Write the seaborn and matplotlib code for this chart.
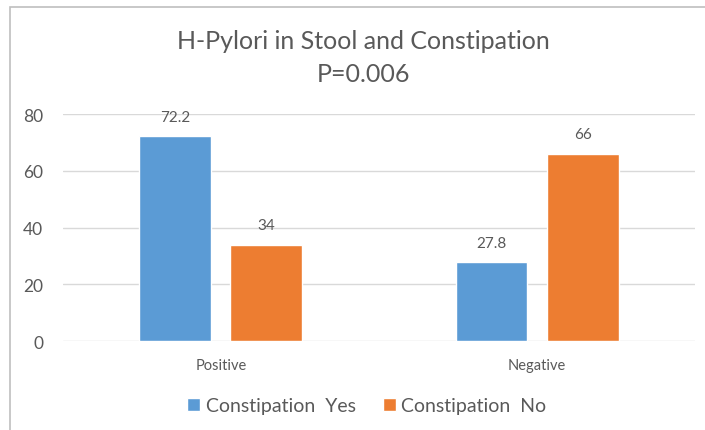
import matplotlib
matplotlib.use("Agg")
import matplotlib.pyplot as plt
import seaborn as sns
import pandas as pd
from matplotlib.patches import Rectangle

# data
groups = ["Positive", "Negative"]
series = ["Constipation  Yes", "Constipation  No"]
yes_values = [72.2, 27.8]
no_values = [34, 66]
value_labels = {"Constipation  Yes": ["72.2", "27.8"], "Constipation  No": ["34", "66"]}

df = pd.DataFrame({
    "group": groups * 2,
    "series": [series[0]] * 2 + [series[1]] * 2,
    "value": yes_values + no_values,
})

sns.set_style("white")
plt.rcParams["font.family"] = ["Lato", "DejaVu Sans"]
text_color = "#595959"

fig = plt.figure(figsize=(7.05, 4.31), dpi=100)
ax = fig.add_axes([0.089, 0.206, 0.897, 0.527])

sns.barplot(data=df, x="group", y="value", hue="series", order=groups,
            hue_order=series, palette=["#5B9BD5", "#ED7D31"],
            width=0.576, gap=0.21, saturation=1, errorbar=None, ax=ax)

for container, name in zip(ax.containers, series):
    ax.bar_label(container, labels=value_labels[name], padding=9,
                 fontsize=11, color=text_color)

ax.set_ylim(0, 80)
ax.set_xlim(-0.5, 1.5)
ax.set_yticks([0, 20, 40, 60, 80])
ax.yaxis.grid(True, color="#D9D9D9", linewidth=1)
ax.set_axisbelow(True)
for s in ax.spines.values():
    s.set_visible(False)
ax.tick_params(axis="y", labelsize=12.5, colors=text_color, length=0, pad=14)
ax.tick_params(axis="x", labelsize=10.5, colors=text_color, length=0, pad=12)
ax.set_xlabel("")
ax.set_ylabel("")

# two-line title, centred as in the reference
fig.text(0.516, 0.904, "H-Pylori in Stool and Constipation", ha="center",
         va="center", fontsize=18, color=text_color)
fig.text(0.516, 0.828, "P=0.006", ha="center", va="center", fontsize=18,
         color=text_color)

ax.legend(loc="center", bbox_to_anchor=(0.481, -0.285), ncol=2, frameon=False,
          fontsize=14, handlelength=0.65, handleheight=0.65, handletextpad=0.3,
          columnspacing=1.4, labelcolor=text_color)

# chart frame (top and left edges visible in the reference)
fig.patches.append(Rectangle((10 / 705, -0.1), 1.2, 1 - 8 / 431 + 0.1,
                             transform=fig.transFigure, fill=False,
                             edgecolor="#BFBFBF", linewidth=1.2))

fig.savefig("out.png", dpi=100)
